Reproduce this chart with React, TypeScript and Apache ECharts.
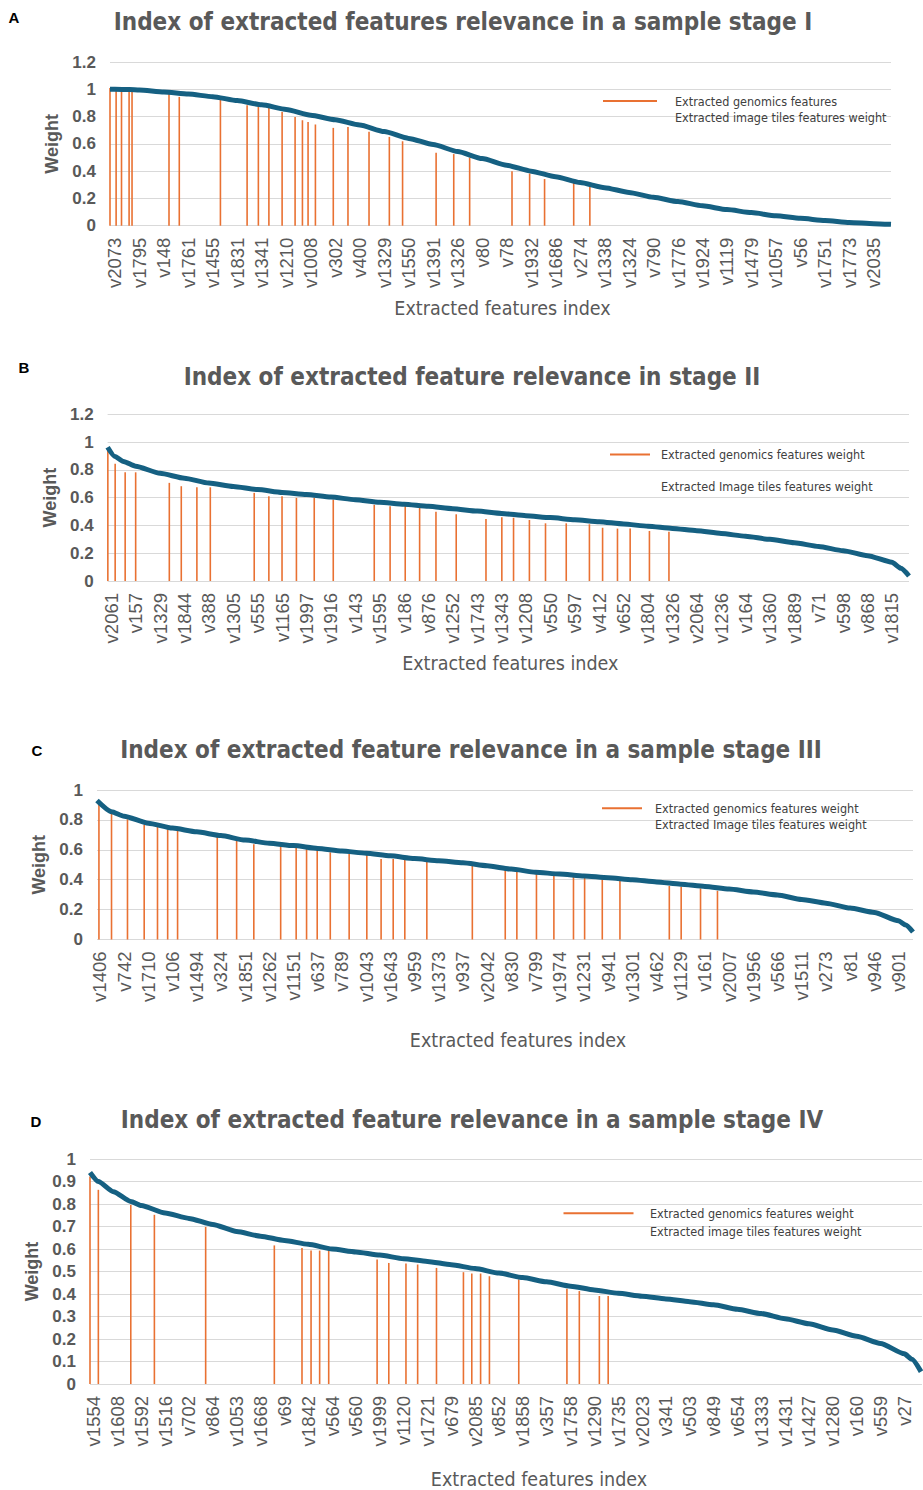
import React, { useEffect, useRef } from "react";
import * as echarts from "echarts";

// ---------- Tick labels (feature index shown on each x axis) ----------
const labelsA = ["v2073","v1795","v148","v1761","v1455","v1831","v1341","v1210","v1008","v302","v400","v1329","v1550","v1391","v1326","v80","v78","v1932","v1686","v274","v1338","v1324","v790","v1776","v1924","v1119","v1479","v1057","v56","v1751","v1773","v2035"];
const labelsB = ["v2061","v157","v1329","v1844","v388","v1305","v555","v1165","v1997","v1916","v143","v1595","v186","v876","v1252","v1743","v1343","v1208","v550","v597","v412","v652","v1804","v1326","v2064","v1236","v164","v1360","v1889","v71","v598","v868","v1815"];
const labelsC = ["v1406","v742","v1710","v106","v1494","v324","v1851","v1262","v1151","v637","v789","v1043","v1643","v959","v1373","v937","v2042","v830","v799","v1974","v1231","v941","v1301","v462","v1129","v161","v2007","v1956","v566","v1511","v273","v81","v946","v901"];
const labelsD = ["v1554","v1608","v1592","v1516","v702","v864","v1053","v1668","v69","v1842","v564","v560","v1999","v1120","v1721","v679","v2085","v852","v1858","v357","v1758","v1290","v1735","v2023","v341","v503","v849","v654","v1333","v1431","v1427","v1280","v160","v559","v27"];

// ---------- Image tiles feature weight curves: [position in label steps, weight] ----------
const curveA = [[-0.2,1.0],[0,1.0],[0.6,0.998],[1,0.995],[2,0.98],[3,0.965],[4,0.946],[5,0.917],[6,0.886],[7,0.852],[8,0.81],[9,0.776],[10,0.738],[11,0.69],[12,0.64],[13,0.595],[14,0.544],[15,0.492],[16,0.443],[17,0.4],[18,0.359],[19,0.316],[20,0.279],[21,0.244],[22,0.208],[23,0.177],[24,0.146],[25,0.118],[26,0.096],[27,0.073],[28,0.054],[29,0.038],[30,0.023],[31,0.015],[31.7,0.01]];
const curveB = [[-0.15,0.962],[0.15,0.895],[0.5,0.86],[1,0.826],[2,0.775],[3,0.74],[4,0.705],[5,0.68],[6,0.658],[7,0.637],[8,0.623],[9,0.604],[10,0.585],[11,0.567],[12,0.553],[13,0.537],[14,0.52],[15,0.503],[16,0.486],[17,0.47],[18,0.456],[19,0.441],[20,0.427],[21,0.41],[22,0.394],[23,0.378],[24,0.362],[25,0.342],[26,0.322],[27,0.3],[28,0.275],[29,0.248],[30,0.218],[31,0.182],[32,0.135],[32.37,0.091],[32.7,0.036]];
const curveC = [[-0.12,0.93],[0.48,0.855],[1,0.825],[2,0.778],[3,0.745],[4,0.72],[5,0.695],[6,0.665],[7,0.644],[8,0.628],[9,0.609],[10,0.592],[11,0.577],[12,0.56],[13,0.541],[14,0.527],[15,0.513],[16,0.493],[17,0.471],[18,0.45],[19,0.438],[20,0.425],[21,0.413],[22,0.4],[23,0.385],[24,0.37],[25,0.355],[26,0.338],[27,0.318],[28,0.298],[29,0.268],[30,0.243],[31,0.21],[32,0.181],[33,0.125],[33.3,0.097],[33.6,0.05]];
const curveD = [[-0.15,0.94],[0.2,0.9],[0.83,0.855],[1.56,0.811],[2,0.793],[3,0.76],[4,0.736],[5,0.709],[6,0.678],[7,0.657],[8,0.638],[9,0.621],[10,0.6],[11,0.587],[12,0.573],[13,0.557],[14,0.545],[15,0.53],[16,0.513],[17,0.493],[18,0.473],[19,0.454],[20,0.435],[21,0.418],[22,0.403],[23,0.39],[24,0.378],[25,0.366],[26,0.352],[27,0.332],[28,0.313],[29,0.29],[30,0.268],[31,0.24],[32,0.212],[33,0.18],[34,0.134],[34.32,0.11],[34.7,0.055]];

// ---------- Genomics feature weights: [position in label steps, weight] ----------
const barsA = [[-0.2,1.01],[0.05,0.998],[0.27,0.985],[0.58,0.98],[0.7,0.98],[2.21,0.969],[2.63,0.944],[4.31,0.932],[5.4,0.883],[5.86,0.876],[6.29,0.871],[6.83,0.834],[7.36,0.797],[7.66,0.773],[7.89,0.761],[8.19,0.742],[8.92,0.717],[9.52,0.724],[10.38,0.688],[11.21,0.651],[11.75,0.619],[13.12,0.534],[13.84,0.525],[14.49,0.5],[16.22,0.4],[16.94,0.383],[17.55,0.342],[18.74,0.318],[19.4,0.285]];
const barsB = [[-0.14,0.951],[0.16,0.844],[0.57,0.782],[1.0,0.782],[2.38,0.706],[2.87,0.682],[3.51,0.674],[4.06,0.674],[5.86,0.634],[6.46,0.61],[7.0,0.61],[7.59,0.598],[8.32,0.598],[9.1,0.586],[10.78,0.548],[11.43,0.538],[12.05,0.54],[12.64,0.53],[13.31,0.498],[14.14,0.48],[15.36,0.446],[16.01,0.458],[16.49,0.455],[17.14,0.439],[17.8,0.415],[18.65,0.415],[19.6,0.408],[20.14,0.383],[20.75,0.377],[21.27,0.377],[22.06,0.36],[22.86,0.355]];
const barsC = [[-0.04,0.915],[0.48,0.851],[1.14,0.804],[1.83,0.766],[2.38,0.766],[2.8,0.737],[3.21,0.732],[4.85,0.688],[5.65,0.666],[6.36,0.637],[7.47,0.639],[8.11,0.617],[8.54,0.61],[8.98,0.61],[9.52,0.583],[10.3,0.572],[11.03,0.572],[11.62,0.538],[12.12,0.538],[12.6,0.538],[13.51,0.52],[15.39,0.492],[16.75,0.465],[17.23,0.454],[18.04,0.438],[18.76,0.438],[19.57,0.425],[20.03,0.42],[20.76,0.409],[21.49,0.398],[23.53,0.358],[24.02,0.353],[24.82,0.342],[25.52,0.326]];
const barsD = [[-0.15,0.922],[0.2,0.863],[1.56,0.796],[2.55,0.752],[4.7,0.698],[7.58,0.616],[8.74,0.605],[9.12,0.593],[9.48,0.593],[9.86,0.593],[11.89,0.553],[12.38,0.538],[13.1,0.536],[13.59,0.531],[14.38,0.516],[15.51,0.497],[15.86,0.491],[16.23,0.491],[16.6,0.479],[17.83,0.465],[19.85,0.423],[20.37,0.413],[21.21,0.391],[21.58,0.391]];

const titles = [
  "Index of extracted features relevance in a sample stage I",
  "Index of extracted feature relevance in stage II",
  "Index of extracted feature relevance in a sample stage III",
  "Index of extracted feature relevance in a sample stage IV",
];
const panelLetters = ["A", "B", "C", "D"];
const genomicsNames = ["Extracted genomics features", "Extracted genomics features weight", "Extracted genomics features weight", "Extracted genomics features weight"];
const imageNames = ["Extracted image tiles features weight", "Extracted Image tiles features weight", "Extracted Image tiles features weight", "Extracted image tiles features weight"];

const ORANGE = "#E97132";
const BLUE = "#156082";
const GRAY = "#595959";
const COND = "'DejaVu Sans Condensed', 'DejaVu Sans', sans-serif";
const SANS = "'Liberation Sans', Arial, sans-serif";

// layout per panel (pixels)
const layout = [
  { left: 110, top: 62, width: 781, height: 163.7, xMin: -0.2, xMax: 31.7, yMax: 1.2, yStep: 0.2, titleX: 463, titleY: 22, letterX: 14, letterY: 17, nameGapY: 48, nameGapX: 73, nameShift: 2, legLeft: 603, legTop: 94.5, legW: 54, legGap: 3, legPad: 13 },
  { left: 107.6, top: 414.2, width: 801.4, height: 166.8, xMin: -0.15, xMax: 32.7, yMax: 1.2, yStep: 0.2, titleX: 472, titleY: 377, letterX: 24, letterY: 367, nameGapY: 46, nameGapX: 72, nameShift: 2, legLeft: 610, legTop: 448, legW: 40, legGap: 18.5, legPad: 6 },
  { left: 97, top: 790, width: 816, height: 149.5, xMin: -0.12, xMax: 33.6, yMax: 1, yStep: 0.2, titleX: 471, titleY: 750, letterX: 37, letterY: 750, nameGapY: 47, nameGapX: 91, nameShift: 13, legLeft: 602, legTop: 801.7, legW: 40, legGap: 3.6, legPad: 8 },
  { left: 90, top: 1159, width: 832, height: 226, xMin: -0.15, xMax: 34.74, yMax: 1, yStep: 0.1, titleX: 472, titleY: 1120, letterX: 36, letterY: 1121, nameGapY: 46, nameGapX: 85, nameShift: 33, legLeft: 563.5, legTop: 1206.8, legW: 70, legGap: 5, legPad: 11.5 },
];

const labelSets = [labelsA, labelsB, labelsC, labelsD];
const curves = [curveA, curveB, curveC, curveD];
const barSets = [barsA, barsB, barsC, barsD];

export default function App() {
  const ref = useRef<HTMLDivElement>(null);

  useEffect(() => {
    document.body.style.margin = "0";
    if (!ref.current) return;
    const chart = echarts.init(ref.current, undefined, { renderer: "svg" });

    const option: any = {
      animation: false,
      backgroundColor: "#ffffff",
      title: layout.map((L, i) => ({
        text: titles[i],
        left: L.titleX,
        top: L.titleY,
        textAlign: "center",
        textVerticalAlign: "middle",
        padding: 0,
        textStyle: { fontFamily: COND, fontWeight: "bold", fontSize: 24, color: GRAY },
      })),
      grid: layout.map((L) => ({ left: L.left, top: L.top, width: L.width, height: L.height, containLabel: false })),
      xAxis: layout.map((L, i) => ({
        type: "value",
        gridIndex: i,
        min: L.xMin,
        max: L.xMax,
        axisLine: { show: false },
        axisTick: { show: false },
        splitLine: { show: false },
        axisLabel: {
          customValues: labelSets[i].map((_, k) => k),
          formatter: (v: number) => labelSets[i][Math.round(v)] ?? "",
          rotate: 90,
          margin: 12,
          fontSize: 18.5,
          fontFamily: SANS,
          color: GRAY,
        },
        name: "Extracted features index",
        nameLocation: "middle",
        nameGap: L.nameGapX,
        nameTextStyle: { fontFamily: COND, fontSize: 19.5, color: GRAY, padding: [0, 0, 0, L.nameShift * 2] },
      })),
      yAxis: layout.map((L, i) => ({
        type: "value",
        gridIndex: i,
        min: 0,
        max: L.yMax,
        interval: L.yStep,
        axisLine: { show: false },
        axisTick: { show: false },
        splitLine: { lineStyle: { color: "#d9d9d9", width: 1 } },
        axisLabel: { fontSize: 17, fontWeight: "bold", fontFamily: SANS, color: GRAY, margin: 14 },
        name: "Weight",
        nameLocation: "middle",
        nameGap: L.nameGapY,
        nameTextStyle: { fontSize: 18, fontWeight: "bold", fontFamily: SANS, color: GRAY },
      })),
      legend: layout.map((L, i) => ({
        orient: "vertical",
        left: L.legLeft,
        top: L.legTop,
        padding: 0,
        itemWidth: L.legW,
        itemHeight: 10,
        itemGap: L.legGap,
        selectedMode: false,
        textStyle: { fontFamily: COND, fontSize: 12.5, color: "#404040", padding: [0, 0, 0, L.legPad] },
        data: [
          { name: genomicsNames[i], icon: `path://M0 0H${L.legW}V2H0Z` },
          { name: imageNames[i], icon: "none" },
        ],
      })),
      graphic: layout.map((L, i) => ({
        type: "text",
        x: L.letterX,
        y: L.letterY,
        style: { text: panelLetters[i], fontFamily: SANS, fontWeight: "bold", fontSize: 15, fill: "#000", align: "center", verticalAlign: "middle" },
      })),
      series: [
        ...layout.map((_, i) => ({
          type: "bar",
          name: genomicsNames[i],
          xAxisIndex: i,
          yAxisIndex: i,
          data: barSets[i],
          barWidth: 1.6,
          itemStyle: { color: ORANGE },
          z: 2,
        })),
        ...layout.map((_, i) => ({
          type: "line",
          name: imageNames[i],
          xAxisIndex: i,
          yAxisIndex: i,
          data: curves[i],
          showSymbol: false,
          symbol: "none",
          smooth: 0.2,
          smoothMonotone: "x",
          lineStyle: { color: BLUE, width: 5 },
          itemStyle: { color: BLUE },
          z: 3,
        })),
      ],
    };

    chart.setOption(option);
    return () => chart.dispose();
  }, []);

  return <div ref={ref} style={{ width: 923, height: 1490 }} />;
}
